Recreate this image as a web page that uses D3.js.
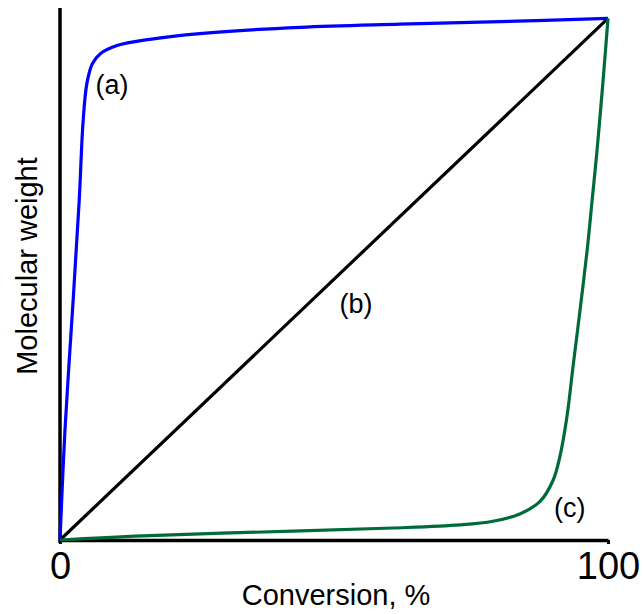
<!DOCTYPE html>
<html>
<head>
<meta charset="utf-8">
<script src="https://cdn.jsdelivr.net/npm/d3@7"></script>
<style>
  body { margin: 0; background: #fff; }
  svg { font-family: "Liberation Sans", Arial, sans-serif; }
</style>
</head>
<body>
<div id="chart"></div>
<script>
const width  = 643;
const height = 614;

// conversion (%) vs relative molecular weight (% of final)
const curveA = [[0,0],[0.9,21],[2.4,46],[3.5,65],[4.2,80],[4.9,87.5],[5.9,91.3],[7.3,93.2],
  [10.4,94.8],[16.4,96],[25.5,97.1],[43.8,98.3],[62,98.9],[80.3,99.4],[100,100]];
const curveB = [[0,0],[100,100]];
const curveC = [[0,0],[15.1,0.8],[42.5,1.7],[60.8,2.3],[73,2.9],[79,3.6],[83.9,5.0],
  [87.6,7.4],[90,11.5],[91.2,15.9],[92.5,23.6],[93.6,33.1],[94.9,44.1],[96.2,55.6],
  [97.1,65.1],[98,74.7],[99.1,88.1],[100,100]];
const xTicks = [0, 100];
const labels = [
  {text: '(a)', x: 9.5, y: 85.6},
  {text: '(b)', x: 54, y: 43.5},
  {text: '(c)', x: 93, y: 4.4}
];

const svg = d3.select('#chart').append('svg')
  .attr('width', width).attr('height', height);

const x = d3.scaleLinear().domain([0, 100]).range([60, 608]);
const y = d3.scaleLinear().domain([0, 102]).range([540, 8]);

// axes
const ax = svg.append('g')
  .attr('transform', `translate(0, ${y(0)})`)
  .call(d3.axisBottom(x).tickValues(xTicks).tickSize(4).tickSizeOuter(0).tickPadding(8));
ax.select('.domain').attr('stroke-width', 3.5);
ax.selectAll('.tick line').attr('stroke-width', 3);
ax.selectAll('.tick text').attr('font-size', 38).attr('fill', '#000')
  .attr('font-family', '"Liberation Sans", Arial, sans-serif');

const ay = svg.append('g')
  .attr('transform', `translate(${x(0)}, 0)`)
  .call(d3.axisLeft(y).tickValues([]).tickSizeOuter(0));
ay.select('.domain').attr('stroke-width', 3.5)
  .attr('d', `M0,${y(102)}V${y(0) + 3}`);

// curves
const line = d3.line().x(d => x(d[0])).y(d => y(d[1])).curve(d3.curveCatmullRom.alpha(0.5));
[[curveB, '#000'], [curveA, '#0000ff'], [curveC, '#006b3a']].forEach(([data, color]) => {
  svg.append('path')
    .datum(data)
    .attr('fill', 'none')
    .attr('stroke', color)
    .attr('stroke-width', 3.2)
    .attr('stroke-linejoin', 'round')
    .attr('d', line);
});

// curve labels
svg.selectAll('.lbl').data(labels).enter().append('text')
  .attr('class', 'lbl')
  .attr('x', d => x(d.x)).attr('y', d => y(d.y))
  .attr('text-anchor', 'middle')
  .attr('font-size', 27)
  .text(d => d.text);

// axis titles
svg.append('text')
  .attr('x', 336).attr('y', 605)
  .attr('text-anchor', 'middle')
  .attr('font-size', 29)
  .text('Conversion, %');

svg.append('text')
  .attr('transform', 'translate(37, 266) rotate(-90)')
  .attr('text-anchor', 'middle')
  .attr('font-size', 29)
  .text('Molecular weight');
</script>
</body>
</html>
